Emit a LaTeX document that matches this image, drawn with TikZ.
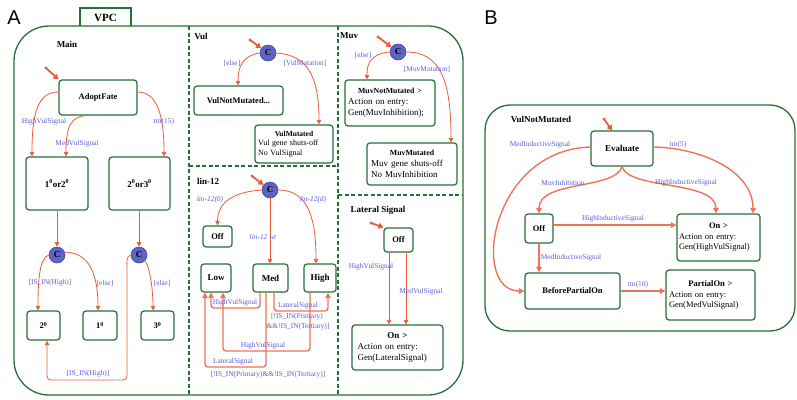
\documentclass[tikz,border=0pt]{standalone}
\usepackage{fontspec}
\setmainfont{Liberation Serif}
\newfontfamily\panelfont{Liberation Sans}
\usetikzlibrary{arrows.meta}
\definecolor{vgreen}{RGB}{38,112,54}
\definecolor{ared}{RGB}{236,90,58}
\definecolor{lblue}{RGB}{90,94,210}
\definecolor{cblue}{RGB}{94,100,196}
\tikzset{
  sz/.style 2 args={minimum width=#1pt, minimum height=#2pt},
  st/.style={draw=vgreen, line width=1.2pt, rounded corners=3pt, fill=white, inner sep=0pt, align=center, font=\bfseries\fontsize{8.5}{10}\selectfont},
  cj/.style={circle, fill=cblue, draw=cblue!75!black, line width=0.6pt, minimum size=16pt, inner sep=0pt, font=\bfseries\fontsize{9}{9}\selectfont},
  tr/.style={draw=ared, line width=0.8pt, -{Triangle[length=4.5pt,width=4.5pt]}},
  trb/.style={draw=ared!85!white, line width=1.4pt, -{Triangle[length=5.5pt,width=5.5pt]}},
  ini/.style={draw=ared, line width=1.8pt, -{Triangle[length=5pt,width=6pt]}},
  lbl/.style={text=lblue, font=\fontsize{7.4}{8}\selectfont, inner sep=0pt},
  lbli/.style={text=lblue, font=\itshape\fontsize{7.4}{8}\selectfont, inner sep=0pt},
  reg/.style={font=\bfseries\fontsize{9}{10}\selectfont, inner sep=0pt},
  frame/.style={draw=vgreen, line width=1.3pt},
  divider/.style={draw=vgreen, line width=1.1pt, dash pattern=on 4pt off 2.5pt},
  det/.style={font=\fontsize{9}{11}\selectfont, align=left},
  detb/.style={font=\fontsize{8.5}{10.5}\selectfont, align=left}
}
\begin{document}
\begin{tikzpicture}[x=1pt,y=-1pt]
\useasboundingbox (0,0) rectangle (797,399);
% ===== Panel A frame =====
\node[font=\panelfont\fontsize{20}{20}\selectfont, inner sep=0pt] at (14,17.5) {A};
\draw[frame, rounded corners=35pt] (14,26) rectangle (463,395);
\draw[frame] (80,26) -- (80,8) -- (131,8) -- (131,26);
\node[font=\bfseries\fontsize{11}{12}\selectfont, inner sep=0pt] at (105.5,17.5) {VPC};
\draw[divider] (189,26) -- (189,395);
\draw[divider] (338,26) -- (338,395);
\draw[divider] (189,166) -- (338,166);
\draw[divider] (338,195) -- (463,195);

% ===== Main =====
\node[reg] at (67,44) {Main};
\node[st, sz={78}{35}] (af) at (98,97.5) {AdoptFate};
\node[st, sz={62}{53}, font=\bfseries\fontsize{9}{10}\selectfont] (s12) at (57,183.5) {1\textsuperscript{0}or2\textsuperscript{0}};
\node[st, sz={61}{53}, font=\bfseries\fontsize{9}{10}\selectfont] (s23) at (139.5,183.5) {2\textsuperscript{0}or3\textsuperscript{0}};
\node[cj] (c1) at (57,255) {C};
\node[cj] (c2) at (139,255) {C};
\node[st, sz={33}{29}] (s2) at (43.5,325.5) {2\textsuperscript{0}};
\node[st, sz={34}{29}] (s1) at (100,325.5) {1\textsuperscript{0}};
\node[st, sz={33}{29}] (s3) at (157.5,325.5) {3\textsuperscript{0}};
\coordinate (iaf) at (46,68);
\fill[ared] (iaf) circle (1.6pt);
\draw[ini] (iaf) -- (af.north west);
\draw[tr] (af.west |- 0,92) .. controls +(-20,0) and +(0,-45) .. (s12.north -| 32,0);
\draw[tr] (af.south -| 86,0) .. controls +(-15,1) and +(0,-30) .. (s12.north -| 66,0);
\draw[tr] (af.east |- 0,92) .. controls +(20,0) and +(0,-40) .. (s23.north -| 164,0);
\draw[tr] (s12.south -| c1) -- (c1);
\draw[tr] (s23.south -| c2) -- (c2);
\draw[tr] (c1.west) .. controls +(-10,3) and +(0,-25) .. (s2.north -| 38,0);
\draw[tr] (c1.20) .. controls +(25,0) and +(0,-35) .. (s1.north -| 98,0);
\draw[tr] (c2.south east) .. controls +(5,5) and +(0,-20) .. (s3.north -| 153,0);
\draw[tr, rounded corners=4pt] (c2.west) .. controls +(-5,2) and +(0,-10) .. (127,272) -- (127,380) -- (47,380) -- (s2.south -| 47,0);
\node[lbl] at (44,122) {HighVulSignal};
\node[lbl] at (77,144) {MedVulSignal};
\node[lbl] at (164,122) {tm(15)};
\node[lbl] at (50,283) {[IS\_IN(High)]};
\node[lbl] at (105,283) {[else]};
\node[lbl] at (162,283) {[else]};
\node[lbl] at (88,374) {[IS\_IN(High)]};

% ===== Vul =====
\node[reg] at (201,36) {Vul};
\node[cj] (cv) at (268,53) {C};
\coordinate (iv) at (250,40);
\fill[ared] (iv) circle (1.6pt);
\draw[ini] (iv) -- (cv);
\node[st, sz={89}{29}] (vnm) at (238.5,100.5) {VulNotMutated...};
\node[st, sz={78}{38}, align=left, text width=72pt, font=\fontsize{8}{9.5}\selectfont] (vm) at (294,144) {\makebox[72pt]{\bfseries\fontsize{7.5}{9}\selectfont VulMutated}\\Vul gene shuts-off\\No VulSignal};
\draw[tr] (cv.west) .. controls +(-18,3) and +(0,-18) .. (vnm.north -| 238,0);
\draw[tr] (cv.east) .. controls +(30,2) and +(0,-50) .. (vm.north -| 319,0);
\node[lbl] at (232,63) {[else]};
\node[lbl] at (305,63) {[VulMutation]};

% ===== lin-12 =====
\node[reg] at (208,181) {lin-12};
\node[cj] (cl) at (270,190) {C};
\coordinate (il) at (252,176);
\fill[ared] (il) circle (1.6pt);
\draw[ini] (il) -- (cl);
\node[st, sz={29}{21}] (off) at (217.5,236.5) {Off};
\node[st, sz={30}{28}, font=\bfseries\fontsize{9}{10}\selectfont] (low) at (216,278) {Low};
\node[st, sz={35}{28}, font=\bfseries\fontsize{9}{10}\selectfont] (med) at (270.5,278) {Med};
\node[st, sz={32}{28}, font=\bfseries\fontsize{9}{10}\selectfont] (high) at (320,278) {High};
\draw[tr] (cl.west) .. controls +(-30,2) and +(0,-22) .. (off.north);
\draw[tr] (cl.south) -- (med.north -| cl);
\draw[tr] (cl.east) .. controls +(30,0) and +(0,-45) .. (high.north -| 316,0);
\node[lbli] at (210,200) {lin-12(0)};
\node[lbli] at (263,237) {lin-12 wt};
\node[lbli] at (313,200) {lin-12(d)};
\draw[trb, rounded corners=3pt] (med.south -| 260,0) -- (260,308) -- (211,308) -- (low.south -| 211,0);
\draw[trb, rounded corners=3pt] (high.south -| 310,0) -- (310,351) -- (223,351) -- (low.south -| 223,0);
\draw[trb, rounded corners=3pt] (med.south -| 266,0) -- (266,367) -- (205,367) -- (low.south -| 205,0);
\draw[trb, rounded corners=3pt] (med.south -| 274,0) -- (274,311) -- (328,311) -- (high.south -| 328,0);
\node[lbl] at (235,303) {HighVulSignal};
\node[lbl] at (263,346) {HighVulSignal};
\node[lbl] at (233,362) {LateralSignal};
\node[lbl] at (268,375) {[!IS\_IN(Primary)\&\&!IS\_IN(Tertiary)]};
\node[lbl] at (298,306) {LateralSignal};
\node[lbl] at (297,317) {[!IS\_IN(Primary)};
\node[lbl] at (298,327) {\&\&!IS\_IN(Tertiary)]};

% ===== Muv =====
\node[reg] at (349,36) {Muv};
\node[cj] (cm) at (398,52) {C};
\coordinate (im) at (378,37);
\fill[ared] (im) circle (1.6pt);
\draw[ini] (im) -- (cm);
\node[st, sz={90}{46}, det, text width=84pt] (mnm) at (390,103) {\makebox[84pt]{\bfseries\fontsize{7.8}{9}\selectfont MuvNotMutated >}\\Action on entry:\\Gen(MuvInhibition);};
\node[st, sz={90}{42}, det, text width=82pt] (mm) at (412,164) {\makebox[82pt]{\bfseries\fontsize{7.8}{9}\selectfont MuvMutated}\\Muv gene shuts-off\\No MuvInhibition};
\draw[tr] (cm.west) .. controls +(-20,2) and +(0,-15) .. (mnm.north -| 367,0);
\draw[tr] (cm.east) .. controls +(35,0) and +(0,-60) .. (mm.north -| 451,0);
\node[lbl] at (363,55) {[else]};
\node[lbl] at (427,69) {[MuvMutation]};

% ===== Lateral Signal =====
\node[reg] at (378,210) {Lateral Signal};
\node[st, sz={29}{24}] (lo) at (398.5,240) {Off};
\coordinate (ils) at (371,223);
\fill[ared] (ils) circle (1.6pt);
\draw[ini] (ils) -- (lo.north west);
\node[st, sz={91}{45}, det, text width=80pt] (lon) at (397.5,347.5) {\makebox[80pt]{\bfseries On >}\\Action on entry:\\Gen(LateralSignal)};
\draw[tr] (lo.south -| 389,0) -- (lon.north -| 389,0);
\draw[tr] (lo.south -| 406,0) -- (lon.north -| 406,0);
\node[lbl] at (371,267) {HighVulSignal};
\node[lbl] at (421,292) {MedVulSignal};

% ===== Panel B =====
\node[font=\panelfont\fontsize{20}{20}\selectfont, inner sep=0pt] at (491,17.5) {B};
\draw[frame, rounded corners=25pt] (485,105) rectangle (795,331);
\node[reg] at (541,119) {VulNotMutated};
\node[st, sz={62}{35}, font=\bfseries\fontsize{9}{10}\selectfont] (ev) at (622,148.5) {Evaluate};
\coordinate (ib) at (604,119);
\fill[ared] (ib) circle (1.6pt);
\draw[ini] (ib) -- (ev.north -| 612,0);
\node[st, sz={28}{29}] (boff) at (539,228.5) {Off};
\node[st, sz={83}{47}, detb, text width=79pt] (bon) at (718.5,237.5) {\makebox[79pt]{\bfseries On >}\\Action on entry:\\Gen(HighVulSignal)};
\node[st, sz={95}{36}] (bpo) at (572.5,291) {BeforePartialOn};
\node[st, sz={89}{50}, detb, text width=83pt] (pon) at (710.5,295) {\makebox[83pt]{\bfseries PartialOn >}\\Action on entry:\\Gen(MedVulSignal)};
\draw[trb] (ev.west |- 0,147) .. controls (490,150) and (470,291) .. (bpo.west);
\draw[trb] (ev.south) .. controls (615,190) and (539,180) .. (boff.north);
\draw[trb] (ev.south) .. controls (629,190) and (716,180) .. (bon.north -| 716,0);
\draw[trb] (ev.east |- 0,147) .. controls (700,148) and (753,170) .. (bon.north -| 753,0);
\draw[trb] (boff.east |- 0,225) -- (bon.west |- 0,225);
\draw[trb] (boff.south) -- (bpo.north -| boff.south);
\draw[trb] (bpo.east) -- (pon.west |- bpo.east);
\node[lbl] at (540,145) {MedInductiveSignal};
\node[lbl] at (563,183) {MuvInhibition};
\node[lbl] at (686,183) {HighInductiveSignal};
\node[lbl] at (678,145) {tm(5)};
\node[lbl] at (613,219) {HighInductiveSignal};
\node[lbl] at (571,258) {MedInductiveSignal};
\node[lbl] at (638,285) {tm(10)};
\end{tikzpicture}
\end{document}
